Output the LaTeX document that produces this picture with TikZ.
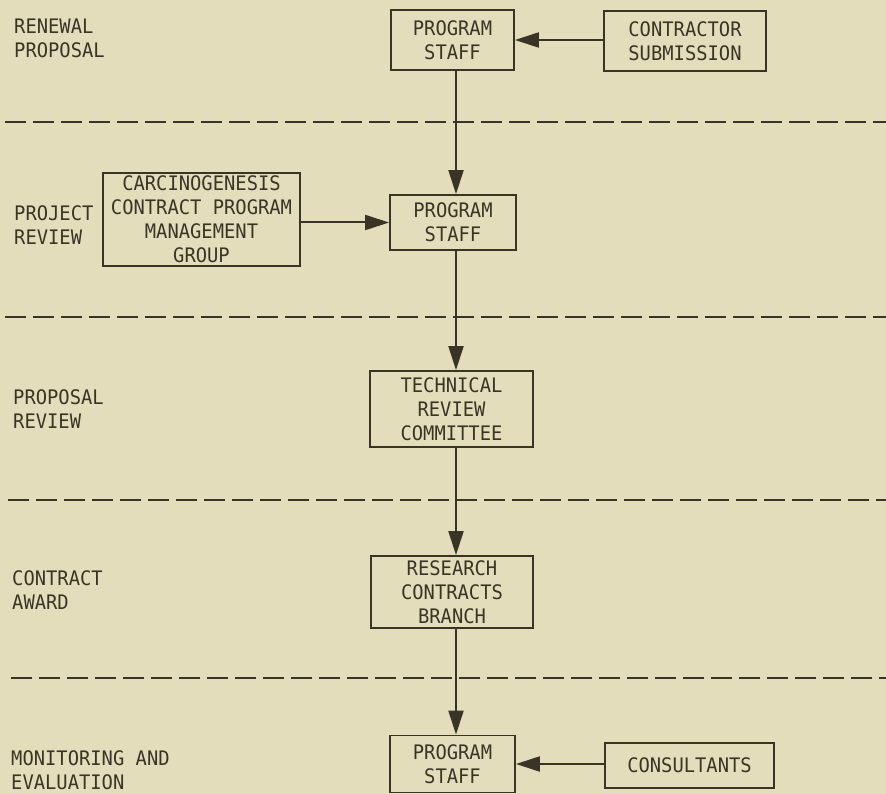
\documentclass[tikz,border=0pt]{standalone}
\usepackage{fontspec}
\setmonofont{DejaVu Sans Mono}[FakeStretch=0.94]
\usetikzlibrary{arrows.meta}
\definecolor{bgc}{RGB}{228,221,188}
\definecolor{ink}{RGB}{58,52,38}
\begin{document}
\begin{tikzpicture}[x=1pt,y=-1pt,
  every node/.style={font=\ttfamily\fontsize{20}{24}\selectfont, text=ink},
  box/.style={draw=ink, line width=1.8pt, inner sep=0pt, align=center},
  lbl/.style={anchor=west, align=left, inner sep=0pt},
  sep/.style={draw=ink, line width=2.6pt, dash pattern=on 21pt off 7pt},
  conn/.style={draw=ink, line width=2pt, -{Triangle[length=24pt,width=15pt]}}]
\fill[bgc] (0,0) rectangle (886,794);
\useasboundingbox (0,0) rectangle (886,794);

% separators
\coordinate (d1a) at (5,122);   \coordinate (d1b) at (886,122);
\coordinate (d2a) at (5,317);   \coordinate (d2b) at (886,317);
\coordinate (d3a) at (8,500);   \coordinate (d3b) at (886,500);
\coordinate (d4a) at (11,678);  \coordinate (d4b) at (886,678);
\path[sep] (d1a) -- (d1b);
\path[sep] (d2a) -- (d2b);
\path[sep] (d3a) -- (d3b);
\path[sep] (d4a) -- (d4b);

% row labels
\node[lbl] (l1) at (14,38.5) {RENEWAL\\PROPOSAL};
\node[lbl] (l2) at (14,225) {PROJECT\\REVIEW};
\node[lbl] (l3) at (13,409.5) {PROPOSAL\\REVIEW};
\node[lbl] (l4) at (12,590) {CONTRACT\\AWARD};
\node[lbl] (l5) at (11,770) {MONITORING AND\\EVALUATION};

% boxes
\node[box, minimum width=123pt, minimum height=60pt] (ps1) at (452.5,40) {PROGRAM\\STAFF};
\node[box, minimum width=162pt, minimum height=60pt] (cs) at (685,41) {CONTRACTOR\\SUBMISSION};
\node[box, minimum width=197pt, minimum height=93pt] (cc) at (201.5,219.5) {CARCINOGENESIS\\CONTRACT PROGRAM\\MANAGEMENT\\GROUP};
\node[box, minimum width=126pt, minimum height=55pt] (ps2) at (453,222.5) {PROGRAM\\STAFF};
\node[box, minimum width=163pt, minimum height=76pt] (trc) at (451.5,409) {TECHNICAL\\REVIEW\\COMMITTEE};
\node[box, minimum width=162pt, minimum height=72pt] (rcb) at (452,592) {RESEARCH\\CONTRACTS\\BRANCH};
\node[box, minimum width=125pt, minimum height=57pt] (ps3) at (452.5,764) {PROGRAM\\STAFF};
\node[box, minimum width=169pt, minimum height=45pt] (con) at (689.5,765.5) {CONSULTANTS};

% vertical spine
\coordinate (vx) at (456,0);
\path[conn] (ps1.south -| vx) -- (ps2.north -| vx);
\path[conn] (ps2.south -| vx) -- (trc.north -| vx);
\path[conn] (trc.south -| vx) -- (rcb.north -| vx);
\path[conn] (rcb.south -| vx) -- (ps3.north -| vx);

% horizontal arrows
\path[conn] (cs.west |- ps1.east) -- (ps1.east);
\path[conn] (cc.east |- ps2.west) -- (ps2.west);
\path[conn] (con.west |- ps3.east) -- (ps3.east);
\end{tikzpicture}
\end{document}
